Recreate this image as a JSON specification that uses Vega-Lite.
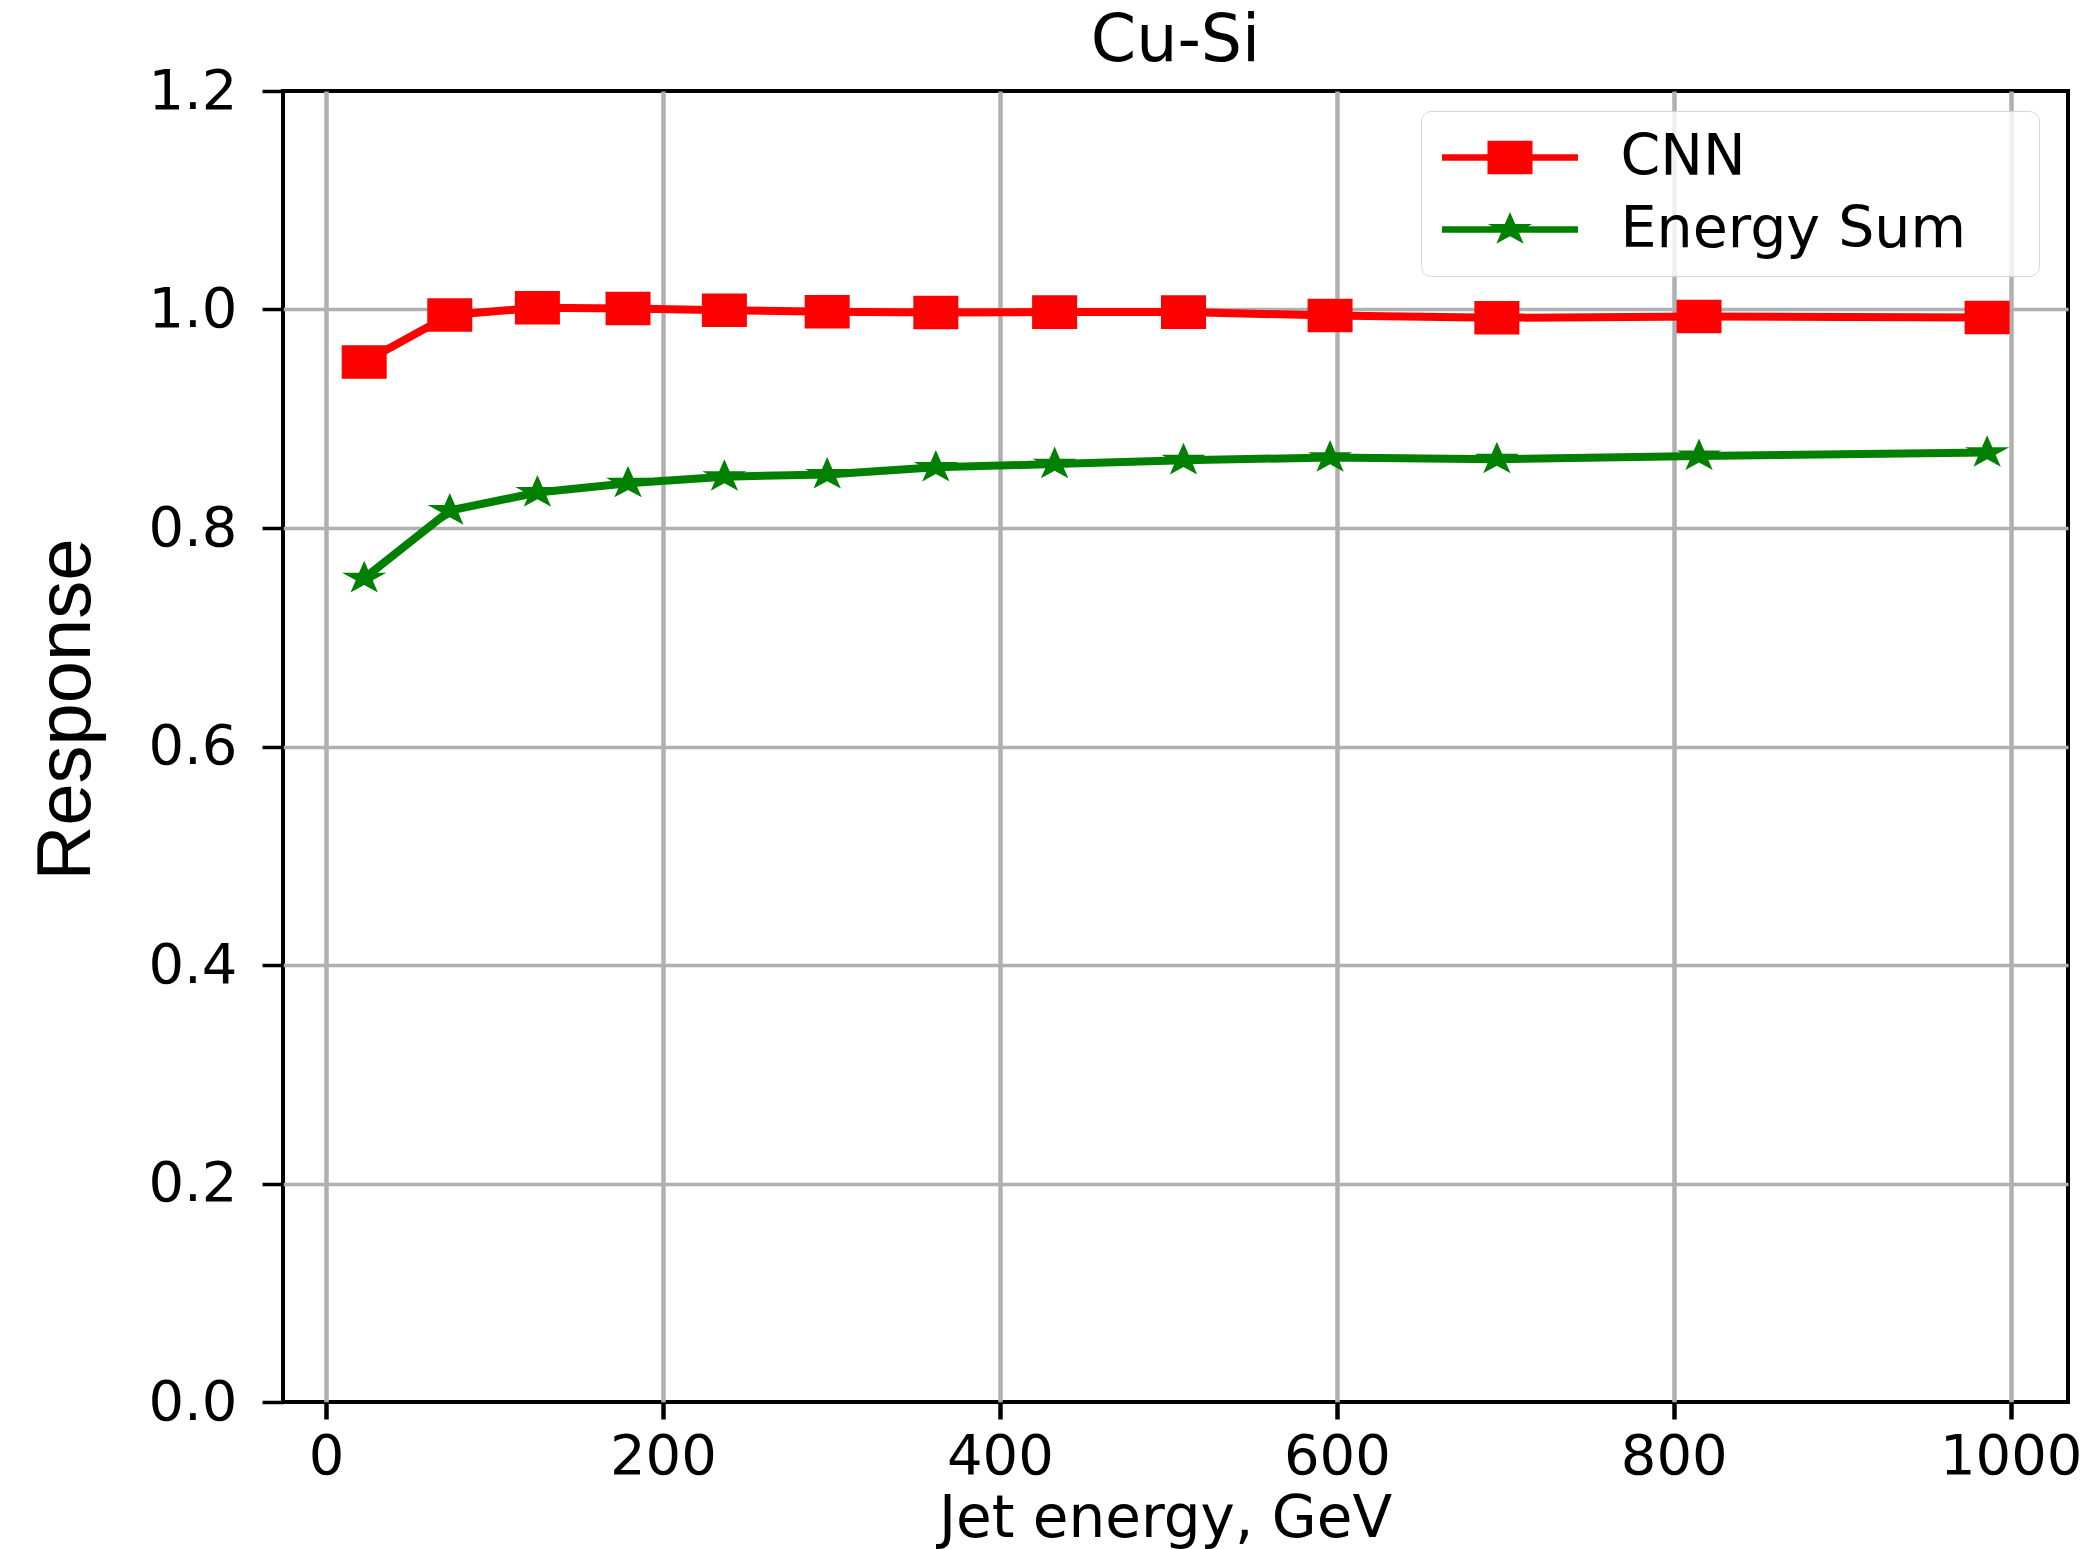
{
  "$schema": "https://vega.github.io/schema/vega-lite/v6.json",
  "width": 1785,
  "height": 1311,
  "autosize": {"type": "none"},
  "padding": {"left": 283, "top": 91, "right": 28, "bottom": 147},
  "background": "white",
  "title": {
    "text": "Cu-Si",
    "frame": "group",
    "anchor": "middle",
    "baseline": "alphabetic",
    "offset": -63,
    "font": "DejaVu Sans",
    "fontSize": 65,
    "fontWeight": "normal",
    "color": "black"
  },
  "data": {
    "values": [
      {"energy": 22.7, "response": 0.952, "method": "CNN"},
      {"energy": 73.5, "response": 0.995, "method": "CNN"},
      {"energy": 125.5, "response": 1.0015, "method": "CNN"},
      {"energy": 179.3, "response": 1.001, "method": "CNN"},
      {"energy": 236.5, "response": 0.9993, "method": "CNN"},
      {"energy": 297.5, "response": 0.998, "method": "CNN"},
      {"energy": 362, "response": 0.9973, "method": "CNN"},
      {"energy": 432.5, "response": 0.9976, "method": "CNN"},
      {"energy": 509, "response": 0.9976, "method": "CNN"},
      {"energy": 596, "response": 0.9945, "method": "CNN"},
      {"energy": 695, "response": 0.9924, "method": "CNN"},
      {"energy": 815, "response": 0.9936, "method": "CNN"},
      {"energy": 986, "response": 0.9927, "method": "CNN"},
      {"energy": 22.7, "response": 0.754, "method": "Energy Sum"},
      {"energy": 73.5, "response": 0.816, "method": "Energy Sum"},
      {"energy": 125.5, "response": 0.8325, "method": "Energy Sum"},
      {"energy": 179.3, "response": 0.841, "method": "Energy Sum"},
      {"energy": 236.5, "response": 0.847, "method": "Energy Sum"},
      {"energy": 297.5, "response": 0.849, "method": "Energy Sum"},
      {"energy": 362, "response": 0.8555, "method": "Energy Sum"},
      {"energy": 432.5, "response": 0.8585, "method": "Energy Sum"},
      {"energy": 509, "response": 0.862, "method": "Energy Sum"},
      {"energy": 596, "response": 0.8645, "method": "Energy Sum"},
      {"energy": 695, "response": 0.863, "method": "Energy Sum"},
      {"energy": 815, "response": 0.866, "method": "Energy Sum"},
      {"energy": 986, "response": 0.869, "method": "Energy Sum"}
    ]
  },
  "encoding": {
    "x": {
      "field": "energy",
      "type": "quantitative",
      "title": "Jet energy, GeV",
      "scale": {"domain": [-25.5, 1034], "nice": false, "zero": false},
      "axis": {
        "values": [0, 200, 400, 600, 800, 1000],
        "format": "d",
        "labelFlush": false,
        "labelOverlap": false,
        "gridWidth": 4.5,
        "tickWidth": 4.5,
        "tickSize": 17,
        "labelPadding": 10,
        "labelBaseline": "top",
        "titleFont": "DejaVu Sans",
        "titleFontSize": 58,
        "titleX": 882,
        "titleY": 134,
        "titleAlign": "center",
        "titleBaseline": "alphabetic"
      }
    },
    "y": {
      "field": "response",
      "type": "quantitative",
      "title": "Response",
      "scale": {"domain": [0, 1.2], "nice": false, "zero": false},
      "axis": {
        "values": [0, 0.2, 0.4, 0.6, 0.8, 1.0, 1.2],
        "format": ".1f",
        "labelFlush": false,
        "labelOverlap": false,
        "gridWidth": 3.5,
        "gridOpacity": {"condition": {"test": "datum.value <= 0.01 || datum.value >= 1.19", "value": 0}, "value": 1},
        "tickWidth": 3.5,
        "tickSize": 21,
        "labelPadding": 25,
        "titleFont": "Liberation Sans",
        "titleFontSize": 76,
        "titleAngle": 270,
        "titleX": -194,
        "titleY": 618,
        "titleAlign": "center",
        "titleBaseline": "alphabetic"
      }
    },
    "color": {
      "field": "method",
      "type": "nominal",
      "scale": {"domain": ["CNN", "Energy Sum"], "range": ["#ff0000", "#008000"]}
    }
  },
  "layer": [
    {
      "description": "Legend carrier: invisible points whose shape scale holds the line-plus-marker legend glyphs",
      "mark": {"type": "point", "filled": true, "size": 2025, "opacity": 0, "strokeWidth": 0},
      "encoding": {
        "shape": {
          "field": "method",
          "type": "nominal",
          "scale": {
            "domain": ["CNN", "Energy Sum"],
            "range": [
              "M-3.02,-0.149H3.02V0.149H-3.02ZM-1,-0.745H1V0.745H-1ZM22.69,0L22.69,0.001L22.691,0Z",
              "M-3.02,-0.149H3.02V0.149H-3.02ZM0,-0.777L0.2323,-0.2401L0.9843,-0.2401L0.376,0.0917L0.6083,0.6288L0,0.2969L-0.6083,0.6288L-0.376,0.0917L-0.9843,-0.2401L-0.2323,-0.2401ZM22.69,0L22.69,0.001L22.691,0Z"
            ]
          },
          "legend": {
            "title": null,
            "orient": "none",
            "legendX": 1138,
            "legendY": 20,
            "padding": 18,
            "rowPadding": 14,
            "symbolSize": 2025,
            "symbolOffset": 42.5,
            "symbolStrokeWidth": 0,
            "symbolOpacity": 1,
            "labelOffset": 82,
            "labelFont": "DejaVu Sans",
            "labelFontSize": 57,
            "labelColor": "black",
            "labelLimit": 1000,
            "fillColor": "rgba(255,255,255,0.8)",
            "strokeColor": "#d6d6d6",
            "cornerRadius": 10,
            "encode": {
              "legend": {"strokeWidth": {"value": 4}}
            }
          }
        }
      }
    },
    {
      "transform": [{"filter": "datum.method === 'CNN'"}],
      "mark": {
        "type": "point",
        "filled": true,
        "size": 2025,
        "opacity": 1,
        "strokeWidth": 0,
        "shape": "M-1,-0.745H1V0.745H-1Z"
      }
    },
    {
      "transform": [{"filter": "datum.method === 'Energy Sum'"}],
      "mark": {
        "type": "point",
        "filled": true,
        "size": 2025,
        "opacity": 1,
        "strokeWidth": 0,
        "shape": "M0,-0.777L0.2323,-0.2401L0.9843,-0.2401L0.376,0.0917L0.6083,0.6288L0,0.2969L-0.6083,0.6288L-0.376,0.0917L-0.9843,-0.2401L-0.2323,-0.2401Z"
      }
    },
    {
      "mark": {"type": "line", "strokeWidth": 8, "strokeJoin": "round"}
    }
  ],
  "config": {
    "view": {"stroke": "black", "strokeWidth": 4},
    "axis": {
      "domain": false,
      "grid": true,
      "gridColor": "#b0b0b0",
      "ticks": true,
      "tickColor": "black",
      "labelColor": "black",
      "labelFont": "DejaVu Sans",
      "labelFontSize": 56,
      "titleColor": "black",
      "titleFontWeight": "normal"
    }
  }
}
